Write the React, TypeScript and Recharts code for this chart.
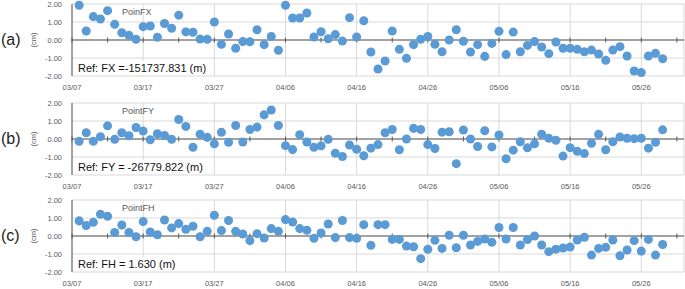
import React from 'react';
import {
  ScatterChart, Scatter, XAxis, YAxis, ZAxis, CartesianGrid, ReferenceLine,
} from 'recharts';

// Observation days counted from 03/07 (day 0); one observation per day
const firstDay = 1;
const dateTickDays = [0, 10, 20, 30, 40, 50, 60, 70, 80];
const dateTickLabels = ['03/07', '03/17', '03/27', '04/06', '04/16', '04/26', '05/06', '05/16', '05/26'];
const minorTickDays = [0, 5, 10, 15, 20, 25, 30, 35, 40, 45, 50, 55, 60, 65, 70, 75, 80, 85];
const yTicks = [-2, -1, 0, 1, 2];

const fxValues = [
  1.93, 0.5, 1.3, 1.17, 1.63, 0.87, 0.4, 0.26, 0.04, 0.74,
  0.78, 0.15, 0.92, 0.65, 1.38, 0.45, 0.43, 0.05, 0.04, 1.0,
  -0.24, 0.33, -0.46, -0.09, -0.1, 0.57, -0.26, 0.2, -0.57, 1.93,
  1.22, 1.22, 1.5, 0.17, 0.46, 0.07, 0.3, -0.06, 1.24, 0.17,
  1.07, -0.67, -1.61, -1.17, 0.5, -0.52, -1.02, -0.26, 0.04, 0.2,
  -0.24, -0.65, 0.0, 0.57, -0.07, -0.67, -0.26, -0.91, -0.19, 0.48,
  -0.81, 0.44, -0.65, -0.3, -0.09, -0.39, -0.76, -0.11, -0.46, -0.46,
  -0.52, -0.65, -0.56, -0.78, -1.13, -0.56, -0.37, -0.89, -1.72, -1.81,
  -0.89, -0.74, -1.04,
];

const fyValues = [
  -0.13, 0.35, -0.13, 0.13, 0.73, -0.02, 0.35, 0.18, 0.64, 0.44,
  -0.04, 0.29, 0.2, -0.02, 1.08, 0.7, -0.46, 0.27, 0.09, -0.27,
  0.37, -0.18, 0.75, -0.17, 0.53, 0.66, 1.34, 1.61, 0.75, -0.37,
  -0.59, 0.24, -0.17, -0.46, -0.38, -0.02, -0.79, -0.97, -0.33, -0.57,
  -0.93, -0.51, -0.31, 0.35, 0.53, -0.6, 0.0, 0.59, 0.53, -0.31,
  -0.53, 0.38, 0.4, -1.37, 0.5, 0.0, -0.42, 0.46, -0.44, 0.22,
  -1.1, -0.62, -0.15, -0.49, -0.27, 0.27, 0.04, -0.07, -0.95, -0.48,
  -0.68, -0.81, -0.24, 0.26, -0.6, -0.15, 0.11, 0.04, 0.02, 0.04,
  -0.51, -0.18, 0.51,
];

const fhValues = [
  0.84, 0.58, 0.76, 1.21, 1.1, 0.2, 0.61, 0.2, -0.04, 0.8,
  0.22, 0.07, 0.89, 0.45, 0.69, 0.37, 0.54, -0.04, 0.26, 1.15,
  0.3, 0.86, 0.26, 0.11, -0.26, 0.13, -0.11, 0.41, 0.26, 0.91,
  0.78, 0.41, 0.32, -0.13, 0.17, 0.67, -0.09, 0.86, -0.09, -0.13,
  0.63, -0.52, 0.63, 0.63, -0.19, -0.19, -0.56, -0.6, -1.26, -0.74,
  -0.24, -0.69, 0.04, -0.65, 0.04, -0.5, -0.3, -0.17, -0.35, 0.47,
  -0.17, 0.47, -0.5, -0.2, 0.0, -0.5, -0.87, -0.73, -0.67, -0.61,
  -0.22, -0.07, -1.06, -0.69, -0.63, -0.22, -1.1, -0.78, -0.26, -0.84,
  -0.19, -1.06, -0.47,
];

const panelLetters = ['(a)', '(b)', '(c)'];
const seriesNames = ['PoinFX', 'PointFY', 'PointFH'];
const refTexts = ['Ref: FX =-151737.831 (m)', 'Ref: FY = -26779.822 (m)', 'Ref: FH = 1.630 (m)'];
const panelValues = [fxValues, fyValues, fhValues];

const panelTops = [0, 99, 196];
const FONT = '"Liberation Sans", Arial, sans-serif';
const GRAY = '#595959';
const BLUE = '#5B9BD5';

function Panel({ values, letter, name, refText, top }: any) {
  const data = values.map((v: number, i: number) => ({ x: firstDay + i, y: v }));
  const labelFor = (d: number) => dateTickLabels[dateTickDays.indexOf(d)] ?? '';
  return (
    <div style={{ position: 'absolute', left: 0, top, width: 685, height: 92 }}>
      <ScatterChart width={685} height={92} margin={{ top: 4, right: 1, bottom: 0, left: 0 }}>
        <CartesianGrid stroke="#d9d9d9" strokeWidth={1} />
        <XAxis
          type="number"
          dataKey="x"
          domain={[0, 86]}
          ticks={dateTickDays}
          tickFormatter={labelFor}
          axisLine={false}
          tickLine={false}
          tickSize={0}
          tickMargin={9}
          height={16}
          interval={0}
          tick={{ fill: GRAY, fontSize: 7.5, fontFamily: FONT }}
        />
        <YAxis
          type="number"
          dataKey="y"
          domain={[-2, 2]}
          ticks={yTicks}
          tickFormatter={(v: number) => v.toFixed(2)}
          width={72}
          axisLine={{ stroke: GRAY, strokeWidth: 1 }}
          tickLine={false}
          tickSize={0}
          tickMargin={10}
          interval={0}
          tick={{ fill: GRAY, fontSize: 7.5, fontFamily: FONT }}
        />
        <ZAxis range={[36, 36]} />
        <ReferenceLine y={0} stroke={GRAY} strokeWidth={1} />
        {minorTickDays.map((d) => (
          <ReferenceLine
            key={d}
            segment={[{ x: d, y: -0.14 }, { x: d, y: 0.14 }]}
            stroke={GRAY}
            strokeWidth={1}
          />
        ))}
        <Scatter data={data} fill={BLUE} isAnimationActive={false} />
      </ScatterChart>
      <div style={{
        position: 'absolute', left: 1, top: 30, fontFamily: FONT, fontSize: 16,
        color: '#222', lineHeight: '20px',
      }}>{letter}</div>
      <div style={{
        position: 'absolute', left: 34, top: 40, width: 0, height: 0,
      }}>
        <div style={{
          position: 'absolute', left: -14, top: -6, width: 28, height: 12,
          transform: 'rotate(-90deg)', textAlign: 'center', fontFamily: FONT,
          fontSize: 7.5, color: GRAY, lineHeight: '12px',
        }}>(cm)</div>
      </div>
      <div style={{
        position: 'absolute', left: 122, top: 6, fontFamily: FONT, fontSize: 9,
        color: GRAY, lineHeight: '12px',
      }}>{name}</div>
      <div style={{
        position: 'absolute', left: 76, top: 61, fontFamily: FONT, fontSize: 11,
        color: '#111', lineHeight: '14px', background: '#fff', padding: '0 2px',
        whiteSpace: 'nowrap',
      }}>{refText}</div>
    </div>
  );
}

export default function App() {
  return (
    <div style={{ position: 'absolute', left: 0, top: 0, width: 685, height: 289, background: '#fff' }}>
      {panelValues.map((vals, i) => (
        <Panel
          key={i}
          values={vals}
          letter={panelLetters[i]}
          name={seriesNames[i]}
          refText={refTexts[i]}
          top={panelTops[i]}
        />
      ))}
    </div>
  );
}
